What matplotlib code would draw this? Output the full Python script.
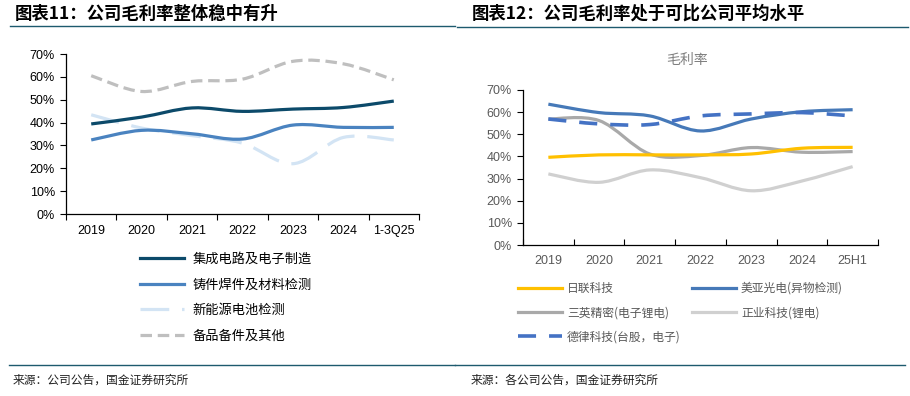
import matplotlib
matplotlib.use('Agg')
import matplotlib.pyplot as plt
import numpy as np
from matplotlib.path import Path
from matplotlib.patches import PathPatch
from matplotlib.lines import Line2D
from matplotlib.ticker import PercentFormatter

plt.rcParams['font.family'] = ['Liberation Sans', 'Noto Sans CJK SC', 'DejaVu Sans']
CJK = ['Noto Sans CJK SC', 'DejaVu Sans']

# 图表11 数据
years_l = ['2019', '2020', '2021', '2022', '2023', '2024', '1-3Q25']
names_l = ['集成电路及电子制造', '铸件焊件及材料检测', '新能源电池检测', '备品备件及其他']
ic = [39.4, 42.4, 46.4, 44.9, 45.9, 46.6, 49.4]
casting = [32.4, 36.6, 35.1, 32.8, 38.9, 37.9, 37.9]
battery = [43.4, 37.6, 34.3, 31.0, 22.0, 33.5, 32.4]
spare = [60.5, 53.6, 58.0, 59.0, 66.8, 65.7, 58.7]

# 图表12 数据
years_r = ['2019', '2020', '2021', '2022', '2023', '2024', '25H1']
names_r = ['日联科技', '美亚光电(异物检测)', '三英精密(电子锂电)', '正业科技(锂电)', '德律科技(台股，电子)']
rilian = [39.6, 40.7, 40.7, 40.7, 41.1, 43.7, 44.1]
meiya = [63.6, 59.8, 58.3, 51.5, 56.9, 60.2, 61.1]
sanying = [56.9, 56.2, 41.1, 40.4, 44.0, 41.9, 42.2]
zhengye = [32.1, 28.3, 33.9, 30.4, 24.5, 28.9, 35.4]
delv = [56.9, 54.7, 54.4, 58.3, 59.2, 59.8, 58.3]


def smooth_line(ax, ys, color, lw=2.3, dashes=None):
    # Excel 风格的平滑曲线（贝塞尔）
    x = np.arange(len(ys), dtype=float)
    y = np.asarray(ys, dtype=float)
    p = np.column_stack([x, y])
    pp = np.vstack([p[0], p, p[-1]])
    verts = [p[0]]
    codes = [Path.MOVETO]
    t = 1 / 6
    for i in range(len(p) - 1):
        c1 = pp[i + 1] + (pp[i + 2] - pp[i]) * t
        c2 = pp[i + 2] - (pp[i + 3] - pp[i + 1]) * t
        verts += [c1, c2, p[i + 1]]
        codes += [Path.CURVE4] * 3
    patch = PathPatch(Path(verts, codes), fill=False, edgecolor=color, lw=lw,
                      capstyle='butt', joinstyle='round')
    if dashes:
        patch.set_linestyle((0, dashes))
    ax.add_patch(patch)
    ls = (0, dashes) if dashes else '-'
    return Line2D([], [], color=color, lw=lw, linestyle=ls)


fig = plt.figure(figsize=(9.1, 3.96), dpi=100)
W, H = 910, 396


def fx(px):
    return px / W


def fy(py):
    return 1 - py / H


# 标题与分隔线
fig.text(fx(15), fy(14), '图表11：公司毛利率整体稳中有升', family=CJK, fontsize=12.5,
         fontweight='bold', va='center', ha='left', color='black')
fig.text(fx(472), fy(14), '图表12：公司毛利率处于可比公司平均水平', family=CJK, fontsize=12.5,
         fontweight='bold', va='center', ha='left', color='black')
sep = '#1d5a6e'
fig.add_artist(Line2D([fx(10), fx(455)], [fy(25.5), fy(25.5)], color=sep, lw=1.0))
fig.add_artist(Line2D([fx(457), fx(908)], [fy(26.5), fy(26.5)], color=sep, lw=1.0))
fig.add_artist(Line2D([fx(9), fx(455)], [fy(365), fy(365)], color=sep, lw=1.0))
fig.add_artist(Line2D([fx(455), fx(905)], [fy(365), fy(365)], color=sep, lw=1.0))
fig.text(fx(13), fy(380), '来源：公司公告，国金证券研究所', family=CJK, fontsize=8.5,
         va='center', ha='left', color='#222222')
fig.text(fx(471), fy(380), '来源：各公司公告，国金证券研究所', family=CJK, fontsize=8.5,
         va='center', ha='left', color='#222222')

# 左图
axl = fig.add_axes([fx(66), fy(214), fx(419 - 66), (214 - 54) / H])
h1 = smooth_line(axl, spare, '#bfbfbf', dashes=(3.6, 1.8))
h2 = smooth_line(axl, battery, '#d3e4f4', dashes=(9, 4))
h3 = smooth_line(axl, casting, '#4a83c0')
h4 = smooth_line(axl, ic, '#0c4a6a')
axl.set_xlim(-0.5, len(years_l) - 0.5)
axl.set_ylim(0, 70)
axl.set_yticks(np.arange(0, 71, 10))
axl.yaxis.set_major_formatter(PercentFormatter(decimals=0))
axl.set_xticks(np.arange(-0.5, len(years_l), 1))
axl.set_xticklabels([])
axl.set_xticks(np.arange(len(years_l)), minor=True)
axl.set_xticklabels(years_l, minor=True)
axl.tick_params(axis='x', which='major', direction='out', length=4, width=0.8, color='black')
axl.tick_params(axis='x', which='minor', length=0, pad=8, labelsize=9)
axl.tick_params(axis='y', direction='out', length=4, width=0.8, labelsize=9, pad=4)
for s in ['top', 'right']:
    axl.spines[s].set_visible(False)
for s in ['left', 'bottom']:
    axl.spines[s].set_color('black')
    axl.spines[s].set_linewidth(0.9)

fig.legend([h4, h3, h2, h1], names_l, loc='upper left',
           bbox_to_anchor=(fx(140), fy(253)), frameon=False, prop={'family': CJK, 'size': 9.5},
           handlelength=3.3, handletextpad=0.7, labelspacing=0.95, borderpad=0,
           borderaxespad=0)

# 右图
axr = fig.add_axes([fx(523), fy(245), fx(878 - 523), (245 - 90) / H])
g4 = smooth_line(axr, zhengye, '#d0d0d0')
g3 = smooth_line(axr, sanying, '#a9a9a9')
g1 = smooth_line(axr, rilian, '#ffc000')
g2 = smooth_line(axr, meiya, '#4679b8')
g5 = smooth_line(axr, delv, '#4472c4', lw=2.6, dashes=(5, 3.6))
axr.set_xlim(-0.5, len(years_r) - 0.5)
axr.set_ylim(0, 70)
axr.set_yticks(np.arange(0, 71, 10))
axr.yaxis.set_major_formatter(PercentFormatter(decimals=0))
axr.set_xticks(np.arange(-0.5, len(years_r), 1))
axr.set_xticklabels([])
axr.set_xticks(np.arange(len(years_r)), minor=True)
axr.set_xticklabels(years_r, minor=True)
axr.tick_params(axis='x', which='major', direction='in', length=4, width=0.8, color='black')
axr.tick_params(axis='x', which='minor', length=0, pad=7, labelsize=9, labelcolor='#595959')
axr.tick_params(axis='y', direction='out', length=4, width=0.8, labelsize=9, labelcolor='#595959', pad=4)
for s in ['top', 'right']:
    axr.spines[s].set_visible(False)
for s in ['left', 'bottom']:
    axr.spines[s].set_color('black')
    axr.spines[s].set_linewidth(0.9)
fig.text(fx(687), fy(60), '毛利率', family=CJK, fontsize=10, color='#7f7f7f',
         ha='center', va='center')

leg_a = fig.legend([g1, g3, g5], [names_r[0], names_r[2], names_r[4]], loc='upper left',
                   bbox_to_anchor=(fx(518), fy(282)), frameon=False,
                   prop={'family': CJK, 'size': 8.5}, labelcolor='#595959',
                   handlelength=3.7, handletextpad=0.45, labelspacing=0.95, borderpad=0,
                   borderaxespad=0)
leg_b = fig.legend([g2, g4], [names_r[1], names_r[3]], loc='upper left',
                   bbox_to_anchor=(fx(692), fy(282)), frameon=False,
                   prop={'family': CJK, 'size': 8.5}, labelcolor='#595959',
                   handlelength=3.7, handletextpad=0.45, labelspacing=0.95, borderpad=0,
                   borderaxespad=0)

fig.savefig('out.png', dpi=100)
